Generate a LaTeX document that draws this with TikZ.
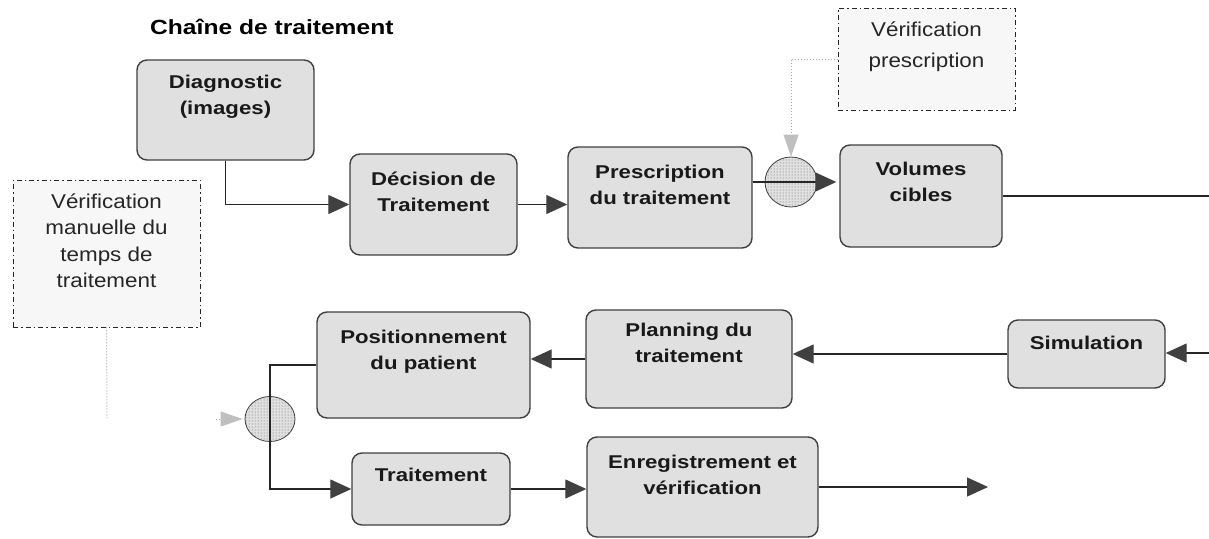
\documentclass[tikz,border=0pt]{standalone}
\usepackage{fontspec}
\setmainfont{Liberation Sans}[FakeStretch=1.12]
\newfontfamily\boldf{Liberation Sans}[FakeStretch=1.2]
\usetikzlibrary{arrows.meta,patterns,shapes.geometric}
\begin{document}
\begin{tikzpicture}[x=1pt,y=-1pt,
  procbox/.style={draw=black!75, line width=1.4pt, fill=black!12, rounded corners=10pt, inner sep=0pt},
  btext/.style={font=\boldf\bfseries\fontsize{18.5}{26}\selectfont, align=center, inner sep=0pt, text=black!90},
  vbox/.style={draw=black!85, line width=0.9pt, dash pattern=on 5pt off 3pt on 1.5pt off 3pt, fill=black!3, inner sep=0pt},
  vtext/.style={font=\fontsize{20}{26.5}\selectfont, align=center, inner sep=0pt, text=black!85},
  junc/.style={ellipse, draw=black!75, line width=0.8pt, inner sep=0pt, preaction={fill=black!12}, pattern=dots, pattern color=black!60},
  flow/.style={line width=1.3pt, draw=black!85, -{Triangle[length=21pt,width=19pt,color=black!75,fill=black!75]}},
  plain/.style={line width=1.3pt, draw=black!85},
  aux/.style={draw=black!35, line width=1pt, dotted},
  auxarrow/.style={aux, -{Triangle[length=22pt,width=15pt,color=black!25,fill=black!25]}}
]
\useasboundingbox (0,0) rectangle (1209,538);

% title
\node[font=\boldf\bfseries\fontsize{20.5}{22}\selectfont, anchor=west, inner sep=0pt] (title) at (150,27) {Chaîne de traitement};

% process boxes
\node[procbox, minimum width=177pt, minimum height=100pt] (diag) at (225.5,110) {};
\node[btext] (diagt) at ([yshift=13pt]diag.center) {Diagnostic\\(images)};
\node[procbox, minimum width=167pt, minimum height=101pt] (dec) at (433.5,204.5) {};
\node[btext] (dect) at ([yshift=13pt]dec.center) {Décision de\\Traitement};
\node[procbox, minimum width=184pt, minimum height=101pt] (presc) at (660,197.5) {};
\node[btext] (presct) at ([yshift=13pt]presc.center) {Prescription\\du traitement};
\node[procbox, minimum width=162pt, minimum height=102pt] (vol) at (921,196) {};
\node[btext] (volt) at ([yshift=14pt]vol.center) {Volumes\\cibles};
\node[procbox, minimum width=157pt, minimum height=68pt] (sim) at (1086.5,354) {};
\node[btext] (simt) at ([yshift=11pt]sim.center) {Simulation};
\node[procbox, minimum width=206pt, minimum height=98pt] (plan) at (689,359) {};
\node[btext] (plant) at ([yshift=16pt]plan.center) {Planning du\\traitement};
\node[procbox, minimum width=213pt, minimum height=106pt] (pos) at (423.5,365) {};
\node[btext] (post) at ([yshift=13pt]pos.center) {Positionnement\\du patient};
\node[procbox, minimum width=158pt, minimum height=72pt] (trait) at (431,489) {};
\node[btext] (traitt) at ([yshift=14pt]trait.center) {Traitement};
\node[procbox, minimum width=231pt, minimum height=100pt] (enr) at (702.5,487) {};
\node[btext] (enrt) at ([yshift=12pt]enr.center) {Enregistrement et\\vérification};

% verification boxes
\node[vbox, minimum width=177pt, minimum height=102pt] (vp) at (926.5,59) {};
\node[vtext, font=\fontsize{20}{31}\selectfont] (vpt) at ([yshift=12pt]vp.center) {Vérification\\prescription};
\node[vbox, minimum width=187pt, minimum height=147pt] (man) at (106.5,253.5) {};
\node[vtext] (mant) at ([yshift=13pt]man.center) {Vérification\\manuelle du\\temps de\\traitement};

% junctions
\node[junc, minimum width=52pt, minimum height=50pt] (c1) at (791,182) {};
\node[junc, minimum width=50pt, minimum height=45pt] (c2) at (270,419) {};

% free ends
\coordinate (volend) at (1209,196);
\coordinate (simstart) at (1209,353);
\coordinate (enrend) at (988,487);
\coordinate (manend) at (107,418);
\coordinate (c2in) at (216,419);

% connectors
\draw[flow] (diag.south) |- (dec.west);
\draw[flow] (dec.east) -- (dec.east -| presc.west);
\draw[flow, shorten >=3pt] (presc.east |- c1) -- (vol.west |- c1);
\draw[plain] (vol.east) -- (volend);
\draw[flow] (simstart) -- (simstart -| sim.east);
\draw[flow] (sim.west) -- (sim.west -| plan.east);
\draw[flow] (plan.west) -- (plan.west -| pos.east);
\draw[flow] (pos.west) -| (c2.center) |- (trait.west);
\draw[flow] (trait.east) -- (trait.east -| enr.west);
\draw[flow] (enr.east) -- (enrend);

% auxiliary links
\draw[auxarrow] (vp.west) -| (c1.north);
\draw[aux] (man.south) -- (manend);
\draw[auxarrow, shorten >=2pt] (c2in) -- (c2.west);
\end{tikzpicture}
\end{document}
